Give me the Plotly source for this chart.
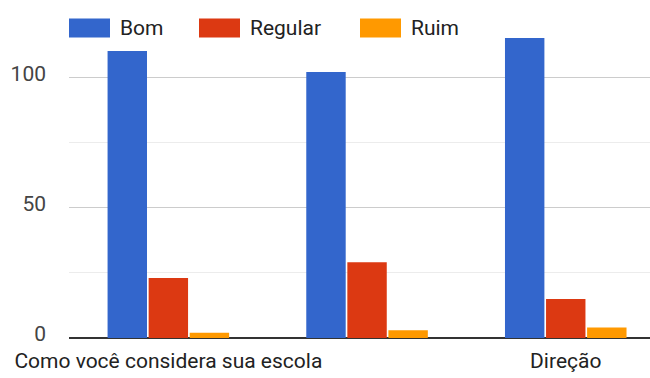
import plotly.graph_objects as go

categories = ["Como você considera sua escola", "", "Direção"]
series_names = ["Bom", "Regular", "Ruim"]
bom = [110, 102, 115]
regular = [23, 29, 15]
ruim = [2, 3, 4]
y_ticks = [0, 50, 100]

colors = ["#3366cc", "#dc3912", "#ff9900"]
values = [bom, regular, ruim]

W, H = 650, 378
L, R, T, B = 69, 0, 12, 40
pw, ph = W - L - R, H - T - B

fig = go.Figure()
xs = list(range(len(categories)))
for name, vals, col in zip(series_names, values, colors):
    fig.add_trace(go.Bar(x=xs, y=vals, name=name, marker=dict(color=col, line=dict(width=0)),
                         showlegend=False))

def px2paper_x(px):
    return (px - L) / pw

def px2paper_y(py):
    return (H - B - py) / ph

legend_box_x = [69, 199, 360]
for name, col, bx in zip(series_names, colors, legend_box_x):
    fig.add_shape(type="rect", xref="paper", yref="paper",
                  x0=px2paper_x(bx), x1=px2paper_x(bx + 41),
                  y0=px2paper_y(37.5), y1=px2paper_y(18.5),
                  fillcolor=col, line=dict(width=0), layer="above")
    fig.add_annotation(text=name, xref="paper", yref="paper",
                       x=px2paper_x(bx + 49), y=px2paper_y(28),
                       xanchor="left", yanchor="middle", showarrow=False,
                       font=dict(family="Roboto", size=21, color="#222222"))

fig.update_layout(
    width=W, height=H,
    margin=dict(l=L, r=R, t=T, b=B, pad=0),
    paper_bgcolor="white", plot_bgcolor="white",
    barmode="group", bargap=0.38, bargroupgap=0.04,
    font=dict(family="Roboto", size=21, color="#333333"),
    showlegend=False,
)
fig.update_xaxes(range=[-0.5, 2.424], tickvals=xs, ticktext=categories,
                 showgrid=False, zeroline=False, showline=False, ticks="",
                 ticklabelstandoff=8,
                 tickfont=dict(size=21, color="#222222"), fixedrange=True)
fig.update_yaxes(range=[0, 125], tickvals=y_ticks, showgrid=True, gridcolor="#cccccc",
                 gridwidth=1, zeroline=True, zerolinecolor="#333333", zerolinewidth=1.5,
                 minor=dict(dtick=25, showgrid=True, gridcolor="#ececec", gridwidth=1),
                 ticks="", ticklabelstandoff=22, ticklabelshift=-4,
                 tickfont=dict(size=21, color="#444444"), fixedrange=True)

fig.write_html("out.html")
